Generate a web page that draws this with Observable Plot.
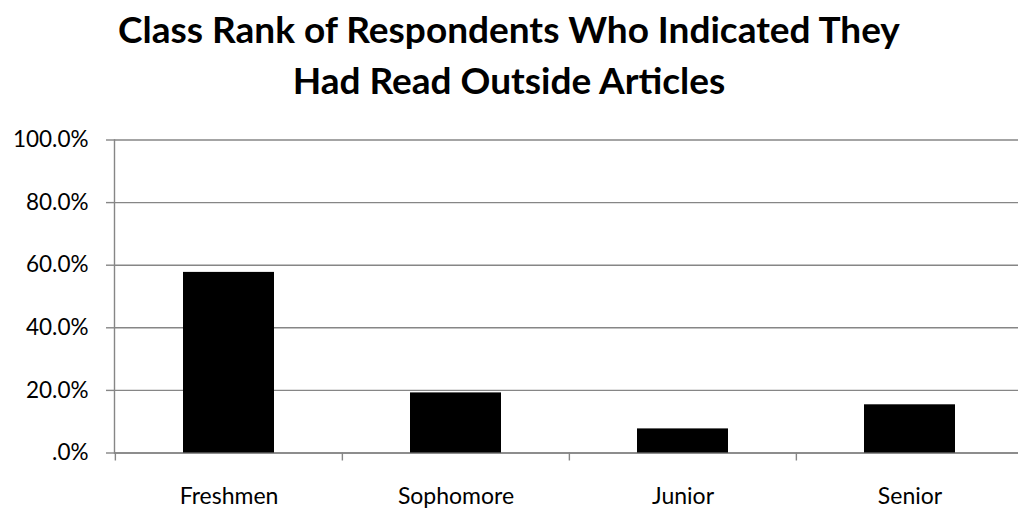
<!DOCTYPE html>
<html>
<head>
<meta charset="utf-8">
<script src="https://cdn.jsdelivr.net/npm/d3@7"></script>
<script src="https://cdn.jsdelivr.net/npm/@observablehq/plot@0.6"></script>
<style>
  html, body { margin: 0; padding: 0; background: #fff; overflow: hidden; }
  #title {
    width: 1018px; height: 120px; box-sizing: border-box;
    padding-top: 3px;
    font-family: Lato, "Open Sans", sans-serif; font-weight: bold;
    font-size: 37px; line-height: 51px; text-align: center; color: #000;
  }
  #chart svg { display: block; }
</style>
</head>
<body>
<div id="title">Class Rank of Respondents Who Indicated They<br>Had Read Outside Articles</div>
<div id="chart"></div>
<script>
const categories = ["Freshmen", "Sophomore", "Junior", "Senior"];
const percentages = [57.7, 19.2, 7.7, 15.4];
const yTicks = [0, 20, 40, 60, 80, 100];
const yTickLabels = [".0%", "20.0%", "40.0%", "60.0%", "80.0%", "100.0%"];

const data = categories.map((c, i) => ({category: c, value: percentages[i]}));
const xRange = [114, 1023];
const band = (xRange[1] - xRange[0]) / categories.length;
const gridColor = "#868686";
const font = "Lato, 'Open Sans', sans-serif";

const chart = Plot.plot({
  width: 1018,
  height: 388,
  marginTop: 19.5,
  marginBottom: 55.5,
  marginLeft: 114,
  marginRight: 0,
  style: {fontFamily: font, color: "#000", background: "#fff", overflow: "visible"},
  x: {domain: categories, range: xRange, paddingInner: 0.6, paddingOuter: 0.3, align: 0.5},
  y: {domain: [0, 100], ticks: yTicks},
  marks: [
    Plot.gridY(yTicks, {stroke: gridColor, strokeOpacity: 1, strokeWidth: 1.4}),
    Plot.axisY(yTicks, {
      tickSize: 8, tickPadding: 18, stroke: gridColor, strokeWidth: 1.4,
      tickFormat: (d) => yTickLabels[yTicks.indexOf(d)],
      fontSize: 22.5, label: null, fill: "#000"
    }),
    Plot.axisX({tickSize: 8, text: null, dx: -band / 2, stroke: gridColor, strokeWidth: 1.4, label: null}),
    Plot.axisX({tickSize: 0, tickPadding: 34.5, fontSize: 23, label: null, fill: "#000"}),
    Plot.ruleY([0], {stroke: gridColor, strokeWidth: 1.4}),
    Plot.frame({anchor: "left", stroke: gridColor, strokeWidth: 1.4}),
    Plot.barY(data, {x: "category", y: "value", fill: "#000"})
  ]
});
document.getElementById("chart").appendChild(chart);
</script>
</body>
</html>
